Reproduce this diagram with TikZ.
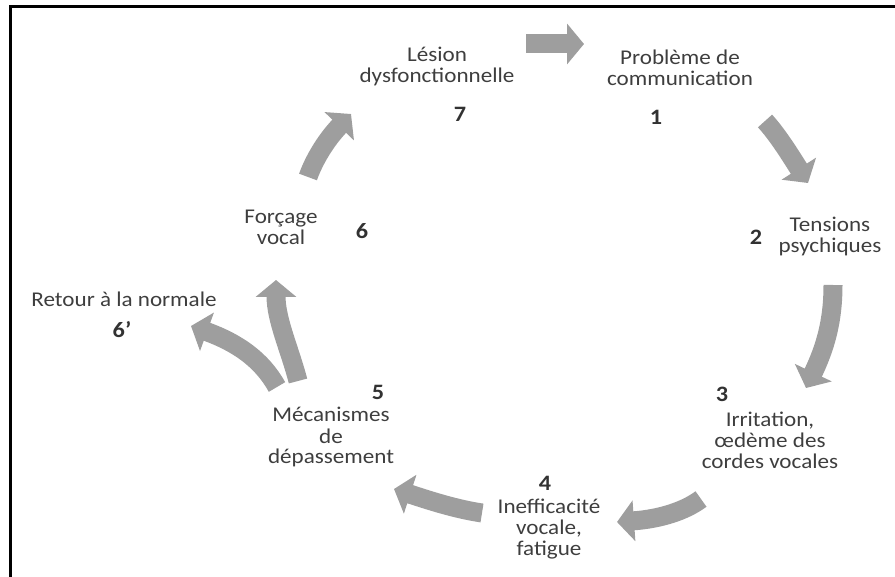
\documentclass[tikz,border=0pt]{standalone}
\usepackage{fontspec}
\setmainfont{Carlito}[FakeStretch=1.1]
\usetikzlibrary{arrows.meta}
\definecolor{arrowgray}{RGB}{158,158,158}
\definecolor{txtgray}{RGB}{62,62,62}
\definecolor{numgray}{RGB}{50,50,50}
\newcommand{\stacklines}[1]{\begin{tabular}[t]{@{}c@{}}#1\end{tabular}}
\tikzset{
  lbl/.style={anchor=base, inner sep=0pt, text=txtgray, font=\fontsize{21}{21}\selectfont},
  num/.style={anchor=base, inner sep=0pt, text=numgray, font=\fontsize{22}{22}\selectfont\bfseries},
  blockarrow/.style={draw=arrowgray, line width=19pt, -{Triangle[width=40pt,length=17pt]}},
  frameline/.style={draw=black, line width=3pt},
}
\begin{document}
\begin{tikzpicture}[x=1pt,y=-1pt]
\useasboundingbox (0,0) rectangle (895,577);
% frame
\draw[frameline] (10.5,577) -- (10.5,7) -- (895,7);

% labels
\node[lbl] (l7) at (437,62) {\stacklines{Lésion\\dysfonctionnelle}};
\node[num] (n7) at (460,122) {7};
\node[lbl] (l1) at (680,65) {\stacklines{Problème de\\communication}};
\node[num] (n1) at (656,125) {1};
\node[lbl] (l2) at (830,232) {\stacklines{Tensions\\psychiques}};
\node[num] (n2) at (756,245) {2};
\node[num] (n3) at (722,402) {3};
\node[lbl] (l3) at (770,427) {\stacklines{Irritation,\\œdème des\\cordes vocales}};
\node[num] (n4) at (545,490) {4};
\node[lbl] (l4) at (549,513) {\stacklines{Inefficacité\\vocale,\\fatigue}};
\node[num] (n5) at (378,400) {5};
\node[lbl] (l5) at (331,422) {\stacklines{Mécanismes\\de\\dépassement}};
\node[lbl] (l6) at (281,224) {\stacklines{Forçage\\vocal}};
\node[num] (n6) at (362,239) {6};
\node[lbl] (l6p) at (124,307) {Retour à la normale};
\node[num] (n6p) at (122,338) {6’};

% arrow end points
\coordinate (a7s) at (526,44);  \coordinate (a7e) at (584,44);
\coordinate (a1s) at (765,121); \coordinate (a1e) at (808,183);
\coordinate (a2s) at (833,285); \coordinate (a2e) at (806,388);
\coordinate (a3s) at (701,499); \coordinate (a3e) at (617,522);
\coordinate (a4s) at (482,513); \coordinate (a4e) at (394,489);
\coordinate (a5s) at (298,381); \coordinate (a5e) at (276,280);
\coordinate (a5ps) at (277,387); \coordinate (a5pe) at (191,326);
\coordinate (a6s) at (308,177); \coordinate (a6e) at (351,114);

% block arrows
\draw[blockarrow] (a7s) -- (a7e);
\draw[blockarrow] (a1s) .. controls (778,135) and (792,158) .. (a1e);
\draw[blockarrow] (a2s) .. controls (833,322) and (825,348) .. (a2e);
\draw[blockarrow] (a3s) .. controls (685,511) and (660,519) .. (a3e);
\draw[blockarrow] (a4s) .. controls (455,509) and (428,500) .. (a4e);
\draw[blockarrow] (a5ps) .. controls (262,360) and (238,343) .. (a5pe);
\draw[blockarrow] (a5s) .. controls (290,350) and (276,320) .. (a5e);
\draw[blockarrow] (a6s) .. controls (314,160) and (326,140) .. (a6e);
\end{tikzpicture}
\end{document}
